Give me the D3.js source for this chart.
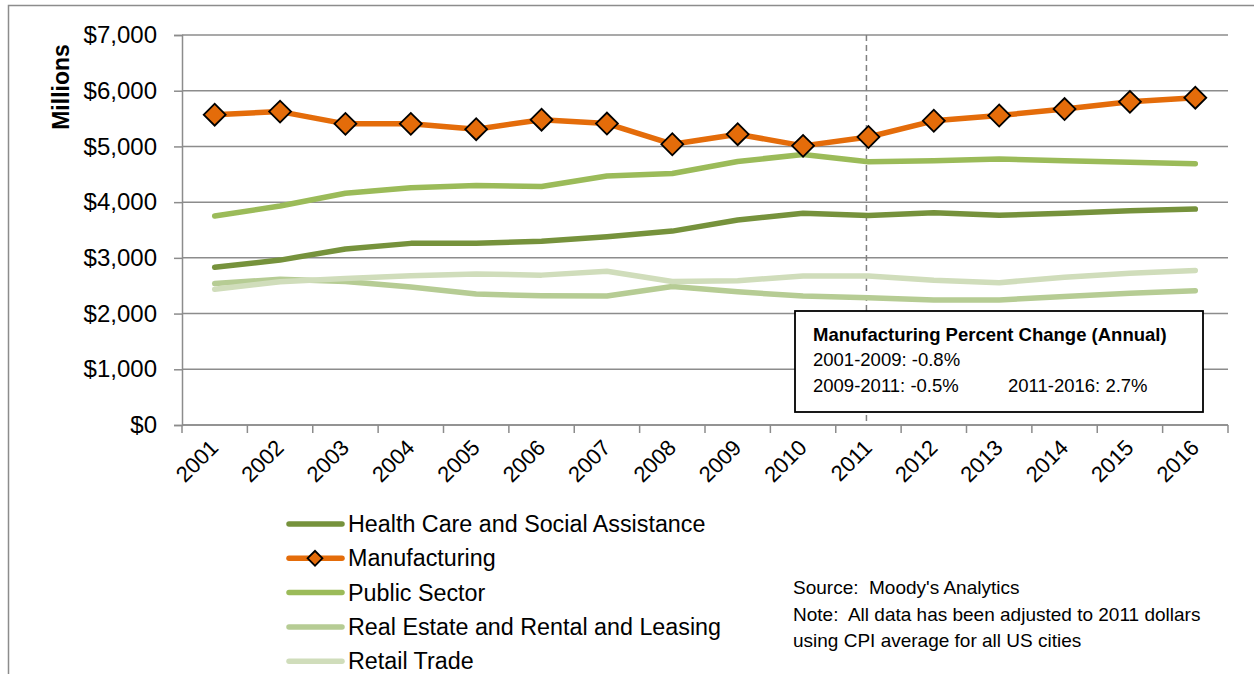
<!DOCTYPE html>
<html>
<head>
<meta charset="utf-8">
<script src="https://cdn.jsdelivr.net/npm/d3@7/dist/d3.min.js"></script>
<style>
  html, body { margin: 0; padding: 0; background: #ffffff; }
  svg { display: block; font-family: "Liberation Sans", Arial, sans-serif; }
  svg text { white-space: pre; }
</style>
</head>
<body>
<svg id="chart" width="1254" height="674"></svg>
<script>
// Annual earnings by industry, millions of 2011 dollars
const years = ["2001","2002","2003","2004","2005","2006","2007","2008",
               "2009","2010","2011","2012","2013","2014","2015","2016"];

const healthCare    = [2830, 2960, 3160, 3260, 3260, 3300, 3380, 3480, 3680, 3800, 3760, 3810, 3765, 3800, 3845, 3875];
const manufacturing = [5570, 5625, 5405, 5405, 5310, 5480, 5410, 5040, 5220, 5010, 5170, 5460, 5555, 5670, 5800, 5875];
const publicSector  = [3750, 3930, 4160, 4260, 4300, 4280, 4470, 4515, 4730, 4855, 4725, 4745, 4775, 4745, 4715, 4690];
const realEstate    = [2540, 2615, 2575, 2475, 2350, 2320, 2315, 2485, 2390, 2315, 2285, 2245, 2245, 2305, 2365, 2410];
const retailTrade   = [2435, 2570, 2630, 2680, 2710, 2690, 2760, 2575, 2590, 2675, 2675, 2600, 2555, 2650, 2725, 2775];

const seriesNames = ["Health Care and Social Assistance", "Manufacturing", "Public Sector",
                     "Real Estate and Rental and Leasing", "Retail Trade"];
const seriesColors = ["#76923c", "#e46c0a", "#9bbb59", "#b6cc94", "#d0ddbb"];

const yTicks = [0, 1000, 2000, 3000, 4000, 5000, 6000, 7000];

const boxTitle = "Manufacturing Percent Change (Annual)";
const boxLines = ["2001-2009: -0.8%", "2009-2011: -0.5%", "2011-2016: 2.7%"];
const noteLines = ["Source:  Moody's Analytics",
                   "Note:  All data has been adjusted to 2011 dollars",
                   "using CPI average for all US cities"];

const series = [healthCare, manufacturing, publicSector, realEstate, retailTrade].map((vals, i) => ({
  name: seriesNames[i], color: seriesColors[i], values: vals, marker: i === 1
}));

const svg = d3.select("#chart");
const plot = { left: 182, right: 1228, top: 35, bottom: 425 };

const x = d3.scaleBand().domain(years).range([plot.left, plot.right]);
const xc = d => x(d) + x.bandwidth() / 2;
const y = d3.scaleLinear().domain([0, 7000]).range([plot.bottom, plot.top]);

// outer chart frame
svg.append("rect")
  .attr("x", 8.5).attr("y", 5.5).attr("width", 1260).attr("height", 700)
  .attr("fill", "none").attr("stroke", "#8c8c8c").attr("stroke-width", 1.5);

// horizontal gridlines
svg.append("g").selectAll("line").data(yTicks).join("line")
  .attr("x1", plot.left).attr("x2", plot.right)
  .attr("y1", d => y(d)).attr("y2", d => y(d))
  .attr("stroke", "#8c8c8c").attr("stroke-width", 1.5);

// y axis
const yAxis = d3.axisLeft(y).tickValues(yTicks).tickSize(8).tickPadding(17)
  .tickFormat(d => "$" + d3.format(",")(d));
const gy = svg.append("g").attr("transform", `translate(${plot.left},0)`).call(yAxis);
gy.select(".domain").attr("stroke", "#8c8c8c").attr("stroke-width", 1.5);
gy.selectAll(".tick line").attr("stroke", "#8c8c8c").attr("stroke-width", 1.5);
gy.selectAll(".tick text").attr("font-size", 24).attr("fill", "#000")
  .attr("font-family", "Liberation Sans, Arial, sans-serif");

// x axis: ticks between categories
const boundaries = years.map(d => x(d)).concat([plot.right]);
const gx = svg.append("g");
gx.append("line").attr("x1", plot.left).attr("x2", plot.right)
  .attr("y1", plot.bottom).attr("y2", plot.bottom)
  .attr("stroke", "#8c8c8c").attr("stroke-width", 1.5);
gx.selectAll("line.tk").data(boundaries).join("line").attr("class", "tk")
  .attr("x1", d => d).attr("x2", d => d)
  .attr("y1", plot.bottom).attr("y2", plot.bottom + 8)
  .attr("stroke", "#8c8c8c").attr("stroke-width", 1.5);
gx.selectAll("text").data(years).join("text")
  .attr("transform", d => `translate(${xc(d) + 5},${plot.bottom + 24}) rotate(-45)`)
  .attr("text-anchor", "end")
  .attr("font-size", 22).attr("fill", "#000")
  .text(d => d);

// y axis title
svg.append("text")
  .attr("transform", "translate(69,87) rotate(-90)")
  .attr("text-anchor", "middle")
  .attr("font-size", 23).attr("font-weight", "bold").attr("fill", "#000")
  .text("Millions");

// 2011 reference line
const refX = xc("2011") - 2;
svg.append("line")
  .attr("x1", refX).attr("x2", refX).attr("y1", plot.top).attr("y2", plot.bottom)
  .attr("stroke", "#808080").attr("stroke-width", 1.5).attr("stroke-dasharray", "6,4");

// series lines
const line = d3.line().x((d, i) => xc(years[i])).y(d => y(d));
const gLines = svg.append("g");
series.forEach(s => {
  gLines.append("path").datum(s.values)
    .attr("d", line)
    .attr("fill", "none").attr("stroke", s.color).attr("stroke-width", 5.5)
    .attr("stroke-linecap", "round").attr("stroke-linejoin", "round");
});

// manufacturing diamond markers
series.filter(s => s.marker).forEach(s => {
  svg.append("g").selectAll("path").data(s.values).join("path")
    .attr("d", d3.symbol().type(d3.symbolSquare).size(240))
    .attr("transform", (d, i) => `translate(${xc(years[i])},${y(d)}) rotate(45)`)
    .attr("fill", s.color).attr("stroke", "#000").attr("stroke-width", 1.8);
});

// annotation box
const box = svg.append("g");
box.append("rect").attr("x", 795).attr("y", 311).attr("width", 408).attr("height", 101)
  .attr("fill", "#fff").attr("stroke", "#000").attr("stroke-width", 1.8);
box.append("text").attr("x", 813).attr("y", 341)
  .attr("font-size", 18.5).attr("font-weight", "bold").attr("fill", "#000").text(boxTitle);
box.append("text").attr("x", 813).attr("y", 366)
  .attr("font-size", 18.5).attr("fill", "#000").text(boxLines[0]);
box.append("text").attr("x", 813).attr("y", 392)
  .attr("font-size", 18.5).attr("fill", "#000").text(boxLines[1]);
box.append("text").attr("x", 1008).attr("y", 392)
  .attr("font-size", 18.5).attr("fill", "#000").text(boxLines[2]);

// legend
const legend = svg.append("g");
series.forEach((s, i) => {
  const ly = 524 + i * 34.3;
  legend.append("line").attr("x1", 289).attr("x2", 342).attr("y1", ly).attr("y2", ly)
    .attr("stroke", s.color).attr("stroke-width", 5.5).attr("stroke-linecap", "round");
  if (s.marker) {
    legend.append("path").attr("d", d3.symbol().type(d3.symbolSquare).size(110))
      .attr("transform", `translate(315,${ly}) rotate(45)`)
      .attr("fill", s.color).attr("stroke", "#000").attr("stroke-width", 1.8);
  }
  legend.append("text").attr("x", 348).attr("y", ly).attr("dy", "0.35em")
    .attr("font-size", 23.3).attr("fill", "#000").text(s.name);
});

// source and note
svg.append("g").selectAll("text").data(noteLines).join("text")
  .attr("x", 793).attr("y", (d, i) => 594 + i * 26.5)
  .attr("font-size", 19).attr("fill", "#000").text(d => d);
</script>
</body>
</html>
